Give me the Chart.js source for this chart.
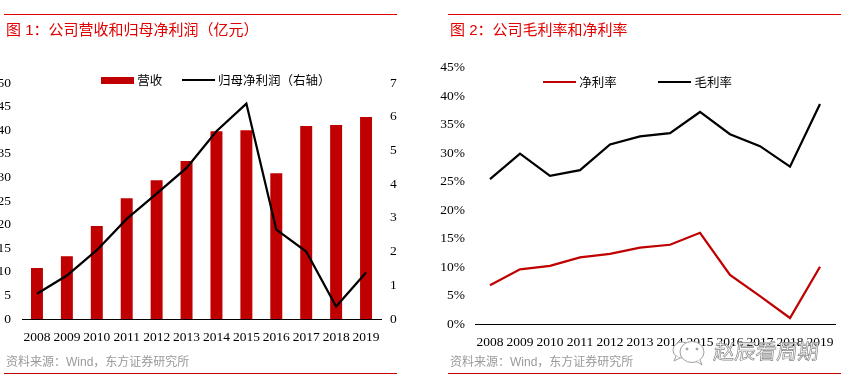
<!DOCTYPE html>
<html><head><meta charset="utf-8">
<script src="https://cdn.jsdelivr.net/npm/chart.js@4"></script>
<style>
html,body{margin:0;padding:0;background:#fff;width:846px;height:388px;overflow:hidden}
canvas{position:absolute;top:0}
.t{position:absolute;white-space:pre;font-family:"Liberation Sans","Noto Sans CJK SC",sans-serif}
.title{color:#e00000;font-size:15px;top:21px;line-height:18px}
.src{color:#9a9a9a;font-size:12px;top:354px;line-height:16px}
.rule{position:absolute;height:1px;width:393px}
.wm{position:absolute;left:714px;top:335px;font:400 21px/30px "Noto Sans CJK SC",sans-serif;color:#fff;-webkit-text-stroke:.7px #888;transform:skewX(-6deg)}
</style></head><body>
<canvas id="c1" width="423" height="388" style="left:0"></canvas>
<canvas id="c2" width="423" height="388" style="left:423px"></canvas>
<div class="rule" style="left:4px;top:14px;background:#e00000"></div>
<div class="rule" style="left:448px;top:14px;background:#e00000"></div>
<div class="rule" style="left:4px;top:373px;background:#c00000"></div>
<div class="rule" style="left:448px;top:373px;background:#c00000"></div>
<div class="t title" style="left:6px">图 1：公司营收和归母净利润（亿元）</div>
<div class="t title" style="left:450px">图 2：公司毛利率和净利率</div>
<div class="t src" style="left:6px">资料来源：Wind，东方证券研究所</div>
<div class="t src" style="left:450px">资料来源：Wind，东方证券研究所</div>
<svg style="position:absolute;left:672px;top:340px" width="36" height="26" viewBox="0 0 36 26" fill="#fff" stroke="#a0a0a0" stroke-width="1">
<ellipse cx="10" cy="10" rx="9" ry="8"/><path d="M4 16 L2 21 L8 18"/>
<ellipse cx="20" cy="12" rx="12" ry="10.5"/><path d="M24 21 L30 25 L28 20"/>
<circle cx="15" cy="9" r="1" fill="#a0a0a0"/><circle cx="25" cy="9" r="1" fill="#a0a0a0"/>
</svg>
<div class="wm">赵辰看周期</div>
<script>
const years=['2008','2009','2010','2011','2012','2013','2014','2015','2016','2017','2018','2019'];
const revenue=[10.8,13.3,19.7,25.6,29.4,33.5,39.8,40.0,30.9,40.9,41.1,42.8];
const netProfit=[0.75,1.29,2.04,2.97,3.72,4.48,5.57,6.39,2.65,2.0,0.37,1.38];
const netMargin=[6.8,9.6,10.2,11.7,12.3,13.4,13.9,16.0,8.6,4.9,1.05,10.05];
const grossMargin=[25.4,29.9,26.0,27.0,31.5,32.9,33.5,37.2,33.3,31.2,27.6,38.6];

const FONT='"Liberation Serif","Noto Sans CJK SC",serif';
const BLACK='#000', RED='#c00000';
Chart.defaults.font.family=FONT;
Chart.defaults.font.size=13.5;
Chart.defaults.color='#000';
Chart.defaults.animation=false;

function swatch(w,h,color){
  const c=document.createElement('canvas');c.width=w;c.height=h;
  const g=c.getContext('2d');g.fillStyle=color;g.fillRect(0,0,w,h);return c;
}
function pinLegend(left,top){
  return {id:'pinLegend',afterLayout(chart){
    const l=chart.legend;
    l.left=left;l.right=left+340;l.top=top;l.bottom=top+90;
  }};
}
function legendOpts(gap){
  return {position:'top',align:'start',maxHeight:1,labels:{usePointStyle:true,pointStyleWidth:27,boxHeight:6,padding:gap,sort:(a,b)=>a.datasetIndex-b.datasetIndex,font:{size:12.5,family:'"Noto Sans CJK SC",sans-serif'},color:'#000'}};
}
function xScale(h){
  return {offset:true,grid:{display:false,drawTicks:false},border:{display:true,color:BLACK,width:1},
    ticks:{padding:10,maxRotation:0,autoSkip:false},
    afterFit(s){s.height=h;}};
}

new Chart(document.getElementById('c1'),{
  data:{labels:years,datasets:[
    {type:'bar',label:'营收',data:revenue,yAxisID:'y',backgroundColor:RED,barPercentage:.4,categoryPercentage:1,order:2,pointStyle:swatch(33,7,RED)},
    {type:'line',label:'归母净利润（右轴）',data:netProfit,yAxisID:'y1',borderColor:BLACK,borderWidth:2.25,tension:0,pointRadius:0,order:1,pointStyle:swatch(33,2,BLACK)}
  ]},
  options:{responsive:false,layout:{padding:{top:82,bottom:0,left:0,right:0}},
    plugins:{legend:legendOpts(22.5),tooltip:{enabled:false}},
    scales:{
      x:xScale(69),
      y:{min:0,max:50,position:'left',grid:{display:false,drawTicks:false},border:{display:false},
        ticks:{stepSize:5,padding:11},afterFit(s){s.width=22;}},
      y1:{min:0,max:7,position:'right',grid:{display:false,drawTicks:false},border:{display:false},
        ticks:{stepSize:1,padding:9},afterFit(s){s.width=42;}}
    }},
  plugins:[pinLegend(81.5,51.25)]
});

new Chart(document.getElementById('c2'),{
  data:{labels:years,datasets:[
    {type:'line',label:'净利率',data:netMargin,borderColor:RED,borderWidth:2.25,tension:0,pointRadius:0,pointStyle:swatch(33,2,RED)},
    {type:'line',label:'毛利率',data:grossMargin,borderColor:BLACK,borderWidth:2.25,tension:0,pointRadius:0,pointStyle:swatch(33,2,BLACK)}
  ]},
  options:{responsive:false,layout:{padding:{top:66.5,bottom:0,left:0,right:11}},
    plugins:{legend:legendOpts(44.5),tooltip:{enabled:false}},
    scales:{
      x:xScale(64),
      y:{min:0,max:45,grid:{display:false,drawTicks:false},border:{display:false},
        ticks:{stepSize:5,padding:10,callback:v=>v+'%'},afterFit(s){s.width=52;}}
    }},
  plugins:[pinLegend(78.5,31.25)]
});
</script>
</body></html>
